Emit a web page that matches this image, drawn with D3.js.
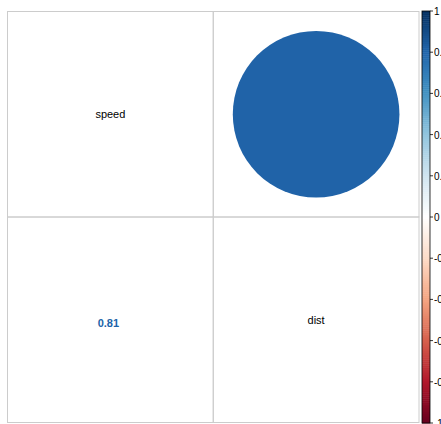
<!DOCTYPE html>
<html>
<head>
<meta charset="utf-8">
<script src="https://cdn.jsdelivr.net/npm/d3@7"></script>
<style>
  html, body { margin: 0; padding: 0; background: #fff; }
  svg { display: block; font-family: "Liberation Sans", Arial, sans-serif; }
</style>
</head>
<body>
<svg id="chart" width="441" height="424"></svg>
<script>
// Variables and their pairwise correlations
const variables = ["speed", "dist"];
const corrValues = [
  [1, 0.81],
  [0.81, 1]
];
const legendTicks = [1, 0.8, 0.6, 0.4, 0.2, 0, -0.2, -0.4, -0.6, -0.8, -1];
const legendLabels = ["1", "0.8", "0.6", "0.4", "0.2", "0", "-0.2", "-0.4", "-0.6", "-0.8", "-1"];
const paletteStops = ["#67001F", "#B2182B", "#D6604D", "#F4A582", "#FDDBC7", "#FFFFFF",
                      "#D1E5F0", "#92C5DE", "#4393C3", "#2166AC", "#053061"];

const svg = d3.select("#chart");
const gridLeft = 7.5, gridRight = 419, gridTop = 11.5, gridBottom = 422.5;

const x = d3.scaleBand().domain(variables).range([gridLeft, gridRight]);
const y = d3.scaleBand().domain(variables).range([gridTop, gridBottom]);
const color = d3.scaleLinear()
  .domain(d3.range(paletteStops.length).map(i => -1 + 2 * i / (paletteStops.length - 1)))
  .range(paletteStops)
  .interpolate(d3.interpolateRgb);
const radius = d3.scaleLinear().domain([0, 1]).range([0, x.bandwidth() / 2]);

// Cells: upper triangle circles, diagonal names, lower triangle numbers
const cells = [];
variables.forEach((rv, i) => variables.forEach((cv, j) => cells.push({ row: rv, col: cv, i, j, v: corrValues[i][j] })));

const grid = svg.append("g");
cells.forEach(c => {
  grid.append("rect")
    .attr("x", x(c.col)).attr("y", y(c.row))
    .attr("width", x.bandwidth()).attr("height", y.bandwidth())
    .attr("fill", "none").attr("stroke", "#cccccc").attr("stroke-width", 1);
});

const cx = d => x(d.col) + x.bandwidth() / 2;
const cy = d => y(d.row) + y.bandwidth() / 2;

svg.append("g").selectAll("circle")
  .data(cells.filter(c => c.j > c.i))
  .join("circle")
  .attr("cx", cx).attr("cy", cy)
  .attr("r", d => radius(Math.abs(d.v)))
  .attr("fill", d => color(d.v));

svg.append("g").selectAll("text")
  .data(cells.filter(c => c.j === c.i))
  .join("text")
  .attr("x", cx).attr("y", d => cy(d) + 4)
  .attr("text-anchor", "middle")
  .attr("font-size", 11).attr("fill", "#000")
  .text(d => d.row);

svg.append("g").selectAll("text")
  .data(cells.filter(c => c.j < c.i))
  .join("text")
  .attr("x", d => cx(d) - 2).attr("y", d => cy(d) + 7)
  .attr("text-anchor", "middle")
  .attr("font-size", 11).attr("font-weight", "bold")
  .attr("fill", d => color(d.v))
  .text(d => d3.format(".2f")(d.v));

// Colour legend
const barX = 422, barW = 8;
const ly = d3.scaleLinear().domain([1, -1]).range([11, 423]);
const steps = 200;
const legend = svg.append("g");
legend.selectAll("rect")
  .data(d3.range(steps))
  .join("rect")
  .attr("x", barX)
  .attr("y", i => ly(1 - 2 * i / steps))
  .attr("width", barW)
  .attr("height", (ly(-1) - ly(1)) / steps + 0.5)
  .attr("fill", i => color(1 - 2 * (i + 0.5) / steps));
legend.append("rect")
  .attr("x", barX).attr("y", ly(1)).attr("width", barW).attr("height", ly(-1) - ly(1))
  .attr("fill", "none").attr("stroke", "#000").attr("stroke-width", 0.8);

legend.selectAll("line")
  .data(legendTicks)
  .join("line")
  .attr("x1", barX + barW).attr("x2", barX + barW + 3)
  .attr("y1", d => ly(d)).attr("y2", d => ly(d))
  .attr("stroke", "#000").attr("stroke-width", 0.8);

legend.selectAll("text")
  .data(legendTicks)
  .join("text")
  .attr("x", barX + barW + 4)
  .attr("y", d => ly(d) + 4)
  .attr("font-size", 10).attr("fill", "#000")
  .text((d, i) => legendLabels[i]);
</script>
</body>
</html>
